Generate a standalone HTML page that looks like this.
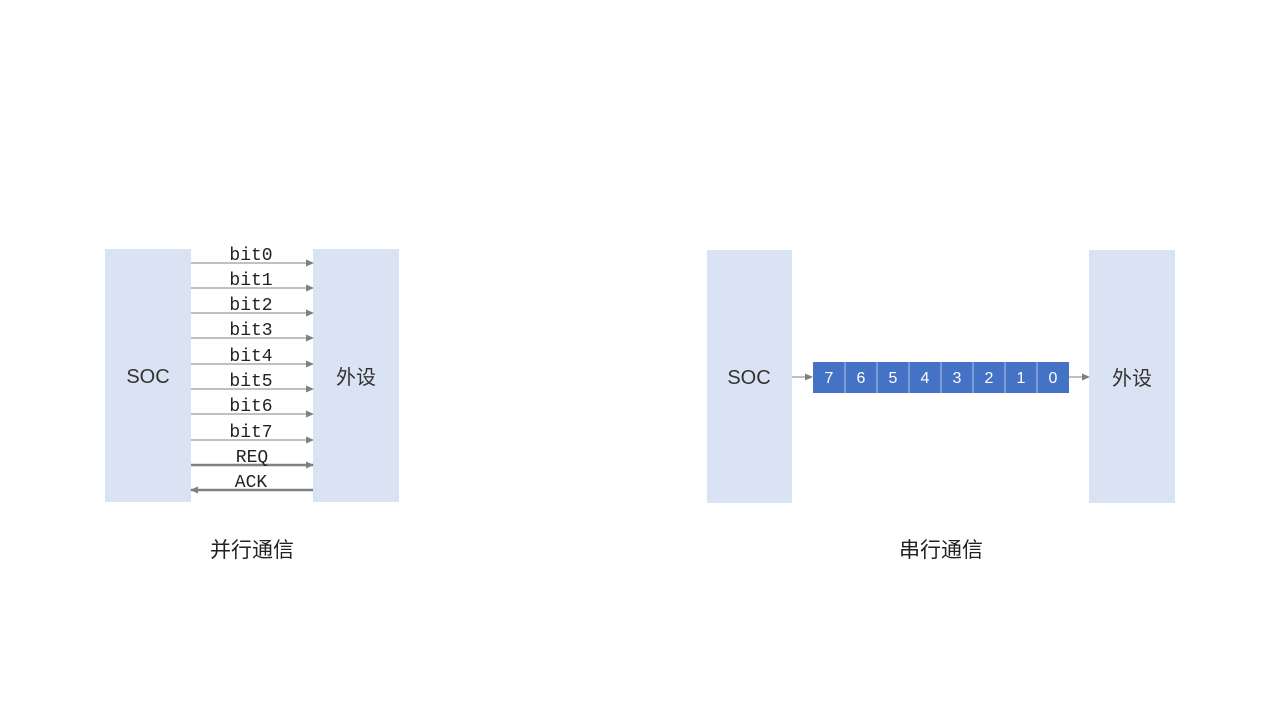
<!DOCTYPE html>
<html><head><meta charset="utf-8"><style>
body{margin:0;background:#fff;width:1280px;height:720px;overflow:hidden}
</style></head><body>
<svg width="1280" height="720" xmlns="http://www.w3.org/2000/svg">
<defs>
<marker id="a" markerWidth="8" markerHeight="8" refX="7" refY="4" orient="auto" markerUnits="userSpaceOnUse"><path d="M0,0.5 L8,4 L0,7.5 Z" fill="#808080"/></marker>
</defs>
<rect x="105" y="249" width="86" height="253" fill="#dae3f3"/>
<rect x="313" y="249" width="86" height="253" fill="#dae3f3"/>
<text x="148" y="383" font-family="Liberation Sans, sans-serif" font-size="20" fill="#333" text-anchor="middle">SOC</text>
<text x="356" y="384" font-family="Liberation Sans, Noto Sans CJK SC, sans-serif" font-size="20" fill="#333" text-anchor="middle">外设</text>
<g font-family="Liberation Mono, monospace" font-size="18" fill="#222" text-anchor="middle" stroke="#808080">
<line x1="191" y1="263" x2="313" y2="263" marker-end="url(#a)"/>
<line x1="191" y1="288" x2="313" y2="288" marker-end="url(#a)"/>
<line x1="191" y1="313" x2="313" y2="313" marker-end="url(#a)"/>
<line x1="191" y1="338" x2="313" y2="338" marker-end="url(#a)"/>
<line x1="191" y1="364" x2="313" y2="364" marker-end="url(#a)"/>
<line x1="191" y1="389" x2="313" y2="389" marker-end="url(#a)"/>
<line x1="191" y1="414" x2="313" y2="414" marker-end="url(#a)"/>
<line x1="191" y1="440" x2="313" y2="440" marker-end="url(#a)"/>
<line x1="191" y1="465" x2="313" y2="465" stroke-width="2.5" marker-end="url(#a)"/>
<line x1="313" y1="490" x2="191" y2="490" stroke-width="2.5" marker-end="url(#a)"/>
<g stroke="none">
<text x="251" y="260">bit0</text>
<text x="251" y="285">bit1</text>
<text x="251" y="310">bit2</text>
<text x="251" y="335">bit3</text>
<text x="251" y="361">bit4</text>
<text x="251" y="386">bit5</text>
<text x="251" y="411">bit6</text>
<text x="251" y="437">bit7</text>
<text x="252" y="462">REQ</text>
<text x="251" y="487">ACK</text>
</g></g>
<text x="252" y="557" font-family="Liberation Sans, Noto Sans CJK SC, sans-serif" font-size="21" fill="#222" text-anchor="middle">并行通信</text>

<rect x="707" y="250" width="85" height="253" fill="#dae3f3"/>
<rect x="1089" y="250" width="86" height="253" fill="#dae3f3"/>
<text x="749" y="384" font-family="Liberation Sans, sans-serif" font-size="20" fill="#333" text-anchor="middle">SOC</text>
<text x="1132" y="385" font-family="Liberation Sans, Noto Sans CJK SC, sans-serif" font-size="20" fill="#333" text-anchor="middle">外设</text>
<line x1="792" y1="377" x2="812" y2="377" stroke="#808080" marker-end="url(#a)"/>
<line x1="1069" y1="377" x2="1089" y2="377" stroke="#808080" marker-end="url(#a)"/>
<g font-family="Liberation Sans, sans-serif" font-size="16" fill="#fff" text-anchor="middle">
<rect x="813" y="362" width="256" height="31" fill="#4472c4"/>
<g stroke="#b4c7e7" stroke-width="1">
<line x1="845" y1="362" x2="845" y2="393"/><line x1="877" y1="362" x2="877" y2="393"/>
<line x1="909" y1="362" x2="909" y2="393"/><line x1="941" y1="362" x2="941" y2="393"/>
<line x1="973" y1="362" x2="973" y2="393"/><line x1="1005" y1="362" x2="1005" y2="393"/>
<line x1="1037" y1="362" x2="1037" y2="393"/>
</g>
<text x="829" y="383">7</text><text x="861" y="383">6</text><text x="893" y="383">5</text><text x="925" y="383">4</text>
<text x="957" y="383">3</text><text x="989" y="383">2</text><text x="1021" y="383">1</text><text x="1053" y="383">0</text>
</g>
<text x="941" y="557" font-family="Liberation Sans, Noto Sans CJK SC, sans-serif" font-size="21" fill="#222" text-anchor="middle">串行通信</text>
</svg>
</body></html>
